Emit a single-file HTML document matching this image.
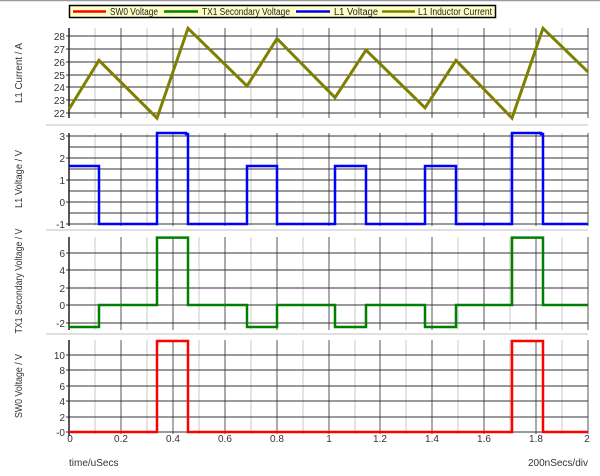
<!DOCTYPE html>
<html><head><meta charset="utf-8"><style>
body{margin:0;background:#fff}
svg{display:block;font-family:"Liberation Sans",sans-serif}
</style></head><body>
<svg width="600" height="476" viewBox="0 0 600 476" xmlns="http://www.w3.org/2000/svg">
<rect width="600" height="476" fill="#fff"/>
<line x1="0" y1="0.5" x2="600" y2="0.5" stroke="#999" stroke-width="1.5"/>
<g stroke="#e0e0e0" stroke-width="2">
<line x1="46" y1="125" x2="588" y2="125"/>
<line x1="46" y1="230" x2="588" y2="230"/>
<line x1="46" y1="334" x2="588" y2="334"/>
</g>
<g stroke="#c8c8c8" stroke-width="1">
<path d="M95 28V118M147 28V118M199 28V118M251 28V118M303 28V118M355 28V118M406 28V118M458 28V118M510 28V118M562 28V118
M95 133V226M147 133V226M199 133V226M251 133V226M303 133V226M355 133V226M406 133V226M458 133V226M510 133V226M562 133V226
M95 237V330M147 237V330M199 237V330M251 237V330M303 237V330M355 237V330M406 237V330M458 237V330M510 237V330M562 237V330
M95 340V434M147 340V434M199 340V434M251 340V434M303 340V434M355 340V434M406 340V434M458 340V434M510 340V434M562 340V434"/>
</g>
<g stroke="#555" stroke-width="1">
<path d="M121 28V118M173 28V118M225 28V118M277 28V118M329 28V118M380 28V118M432 28V118M484 28V118M536 28V118M588 28V118
M121 133V226M173 133V226M225 133V226M277 133V226M329 133V226M380 133V226M432 133V226M484 133V226M536 133V226M588 133V226
M121 237V330M173 237V330M225 237V330M277 237V330M329 237V330M380 237V330M432 237V330M484 237V330M536 237V330M588 237V330
M121 340V434M173 340V434M225 340V434M277 340V434M329 340V434M380 340V434M432 340V434M484 340V434M536 340V434M588 340V434"/>
</g>
<g stroke="#333" stroke-width="1">
<path d="M66 36H588M66 49H588M66 62H588M66 75H588M66 87H588M66 100H588M66 113H588
M66 136H588M69 147H588M66 158H588M69 169H588M66 180H588M69 191H588M66 202H588M69 213H588M66 224H588
M66 253H588M66 270H588M66 288H588M66 305H588M66 323H588
M66 355H588M66 370H588M66 386H588M66 401H588M66 417H588M66 432H588"/>
</g>
<g stroke="#222" stroke-width="1.5">
<path d="M69 28V118M69 133V226M69 237V330M69 340V436"/>
</g>
<polyline fill="none" stroke="#808000" stroke-width="3" points="69,109.1 99,60.4 157,118.1 188,28.3 247,86 277,38.6 335,97.6 366,50.1 425,107.8 456,60.4 512,118.1 543,28.3 588,71.9"/>
<polyline fill="none" stroke="#0000ff" stroke-width="2.5" points="69,166 99,166 99,224 157,224 157,133 186,133 186,134 188,134 188,224 247,224 247,166 277,166 277,224 335,224 335,166 366,166 366,224 425,224 425,166 456,166 456,224 512,224 512,133 541,133 541,134 543,134 543,224 588,224"/>
<polyline fill="none" stroke="#008000" stroke-width="2.5" points="69,327 99,327 99,305 157,305 157,237.6 188,237.6 188,305 247,305 247,327 277,327 277,305 335,305 335,327 366,327 366,305 425,305 425,327 456,327 456,305 512,305 512,237.6 543,237.6 543,305 588,305"/>
<polyline fill="none" stroke="#ff0000" stroke-width="2.5" points="69,432 157,432 157,341 188,341 188,432 512,432 512,341 543,341 543,432 588,432"/>
<g font-size="10" fill="#333" text-anchor="end">
<text x="65" y="40">28</text><text x="65" y="53">27</text><text x="65" y="66">26</text><text x="65" y="79">25</text><text x="65" y="91">24</text><text x="65" y="104">23</text><text x="65" y="117">22</text>
<text x="65" y="140">3</text><text x="65" y="162">2</text><text x="65" y="184">1</text><text x="65" y="206">0</text><text x="65" y="228">-1</text>
<text x="65" y="257">6</text><text x="65" y="274">4</text><text x="65" y="292">2</text><text x="65" y="309">0</text><text x="65" y="327">-2</text>
<text x="65" y="359">10</text><text x="65" y="374">8</text><text x="65" y="390">6</text><text x="65" y="405">4</text><text x="65" y="421">2</text><text x="65" y="436">-0</text>
</g>
<g font-size="10" fill="#333" text-anchor="middle">
<text x="70" y="442">0</text><text x="121" y="442">0.2</text><text x="173" y="442">0.4</text><text x="225" y="442">0.6</text><text x="277" y="442">0.8</text><text x="329" y="442">1</text><text x="380" y="442">1.2</text><text x="432" y="442">1.4</text><text x="484" y="442">1.6</text><text x="536" y="442">1.8</text><text x="587" y="442">2</text>
</g>
<g font-size="10" fill="#333" text-anchor="middle">
<text transform="translate(22,73) rotate(-90)" textLength="60" lengthAdjust="spacingAndGlyphs">L1 Current / A</text>
<text transform="translate(22,179) rotate(-90)" textLength="58" lengthAdjust="spacingAndGlyphs">L1 Voltage / V</text>
<text transform="translate(22,281) rotate(-90)" textLength="105" lengthAdjust="spacingAndGlyphs">TX1 Secondary Voltage / V</text>
<text transform="translate(22,386) rotate(-90)" textLength="64" lengthAdjust="spacingAndGlyphs">SW0 Voltage / V</text>
</g>
<text x="69" y="466" font-size="10" fill="#333">time/uSecs</text>
<text x="588" y="466" font-size="10" fill="#333" text-anchor="end">200nSecs/div</text>
<rect x="69.5" y="5.5" width="426" height="12" fill="#ffffc8" stroke="#000" stroke-width="1.5"/>
<g stroke-width="2.5">
<line x1="73" y1="11.5" x2="106" y2="11.5" stroke="#ff0000"/>
<line x1="164" y1="11.5" x2="198" y2="11.5" stroke="#008000"/>
<line x1="296" y1="11.5" x2="330" y2="11.5" stroke="#0000ff"/>
<line x1="382" y1="11.5" x2="415" y2="11.5" stroke="#808000"/>
</g>
<g font-size="10" fill="#222">
<text x="110" y="15" textLength="48" lengthAdjust="spacingAndGlyphs">SW0 Voltage</text>
<text x="202" y="15" textLength="88" lengthAdjust="spacingAndGlyphs">TX1 Secondary Voltage</text>
<text x="334" y="15" textLength="44" lengthAdjust="spacingAndGlyphs">L1 Voltage</text>
<text x="418" y="15" textLength="74" lengthAdjust="spacingAndGlyphs">L1 Inductor Current</text>
</g>
</svg>
</body></html>
